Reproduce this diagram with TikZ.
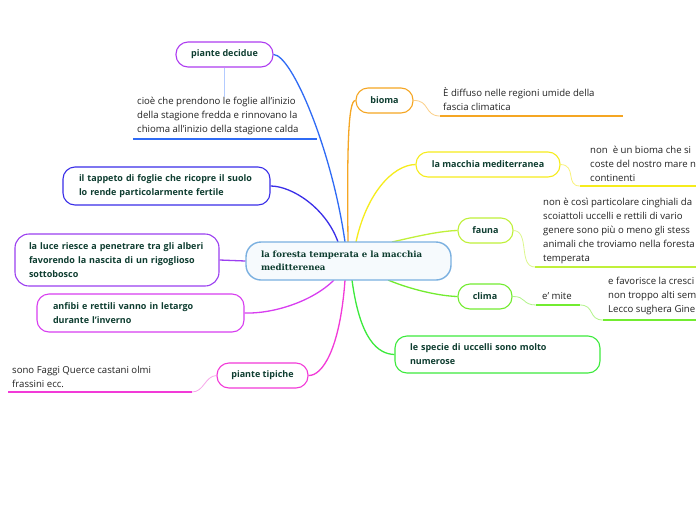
\documentclass[tikz,border=0pt]{standalone}
\usepackage{fontspec}
\setmainfont{Open Sans}
\newfontfamily\centfont{DejaVu Serif}
\definecolor{lbl}{HTML}{0E3D30}
\definecolor{txt}{HTML}{222222}
\definecolor{cBlue}{HTML}{2F6BF5}
\definecolor{cBlueL}{HTML}{B3CBFF}
\definecolor{cViolet}{HTML}{AE3CF0}
\definecolor{cIndigo}{HTML}{3A2EE8}
\definecolor{cPurple}{HTML}{9B3FF0}
\definecolor{cMag}{HTML}{D83EF0}
\definecolor{cPink}{HTML}{F23AD8}
\definecolor{cPinkL}{HTML}{F7A6EA}
\definecolor{cOrange}{HTML}{F5A623}
\definecolor{cOrangeL}{HTML}{FBD08A}
\definecolor{cYellow}{HTML}{F6EC1C}
\definecolor{cYellowL}{HTML}{F9F27A}
\definecolor{cLime}{HTML}{C0F03A}
\definecolor{cLimeL}{HTML}{DDF78E}
\definecolor{cGreen}{HTML}{72EC30}
\definecolor{cGreenL}{HTML}{B2F48A}
\definecolor{cGreen2}{HTML}{3CEA3C}
\definecolor{cCent}{HTML}{7AB0E0}
\definecolor{cCentF}{HTML}{F6FAFD}
\tikzset{
  box/.style={draw, line width=1.1pt, rounded corners=12pt, fill=white, text=lbl,
    font=\fontsize{9}{14}\selectfont\bfseries, inner ysep=0pt},
  wbox/.style={box, align=left, inner xsep=0pt},
  plain/.style={text=txt, font=\fontsize{9.6}{14}\selectfont, align=left, inner sep=0pt, anchor=west},
  branch/.style={line width=1.3pt},
  sub/.style={line width=0.8pt},
  uline/.style={line width=1.8pt}
}
\begin{document}
\begin{tikzpicture}[x=1pt,y=-1pt]
\clip (0,0) rectangle (696,520);
\fill[white] (0,0) rectangle (696,520);

% ---------- attachment points on the centre ----------
\coordinate (c1) at (345,242);
\coordinate (c2) at (338,242);
\coordinate (c3) at (348,242);
\coordinate (c4) at (356,242);
\coordinate (c5) at (392,242);
\coordinate (c6) at (334,280);
\coordinate (c7) at (345,280);
\coordinate (c8) at (352,280);
\coordinate (c9) at (388,280);

% ---------- boxes ----------
\node[box, draw=cViolet, minimum width=97pt, minimum height=25pt] (pd) at (224.5,54.5) {piante decidue};
\node[wbox, draw=cIndigo, minimum height=38pt, text width=175pt, inner xsep=16pt] (tap) at (166.5,186) {il tappeto di foglie che ricopre il suolo\\lo rende particolarmente fertile};
\node[wbox, draw=cPurple, minimum height=52pt, text width=176pt, inner xsep=14pt, rounded corners=14pt] (luce) at (117,260) {la luce riesce a penetrare tra gli alberi\\favorendo la nascita di un rigoglioso\\sottobosco};
\node[wbox, draw=cMag, minimum height=38pt, text width=175pt, inner xsep=16pt] (anf) at (140.5,313) {anfibi e rettili vanno in letargo\\durante l'inverno};
\node[box, draw=cPink, minimum width=91pt, minimum height=25pt] (pt) at (262.5,375.5) {piante tipiche};
\node[box, draw=cOrange, minimum width=57pt, minimum height=25pt] (bio) at (384.5,100.5) {bioma};
\node[box, draw=cYellow, minimum width=144pt, minimum height=25pt] (mac) at (488,164.5) {la macchia mediterranea};
\node[box, draw=cLime, minimum width=55pt, minimum height=25pt] (fau) at (485.5,230.5) {fauna};
\node[box, draw=cGreen, minimum width=54pt, minimum height=25pt] (cli) at (485,296.5) {clima};
\node[wbox, draw=cGreen2, minimum height=37pt, text width=175pt, inner xsep=15pt] (spe) at (497.5,354.5) {le specie di uccelli sono molto\\numerose};

% ---------- branch curves ----------
\draw[branch, cBlue] (c1) .. controls (332,150) and (292,55) .. (pd.east);
\draw[branch, cIndigo] (c2) .. controls (326,208) and (292,186) .. (tap.east);
\draw[branch, cOrange] (c3) .. controls (347,150) and (348,100) .. (bio.west);
\draw[branch, cYellow] (c4) .. controls (366,195) and (392,165) .. (mac.west);
\draw[branch, cLime] (c5) .. controls (418,236) and (440,231) .. (fau.west);
\draw[branch, cGreen] (c9) .. controls (412,290) and (440,296) .. (cli.west);
\draw[branch, cGreen2] (c8) .. controls (360,340) and (378,354) .. (spe.west);
\draw[branch, cPink] (c7) .. controls (340,350) and (322,376) .. (pt.east);
\draw[branch, cMag] (c6) .. controls (312,302) and (272,314) .. (anf.east);

% ---------- centre ----------
\node[draw=cCent, fill=cCentF, line width=1.4pt, rounded corners=15pt, minimum height=38pt,
  text width=175pt, inner xsep=15pt, inner ysep=0pt, align=left, text=lbl,
  font=\centfont\fontsize{8.6}{12.5}\selectfont\bfseries] (cen) at (348.5,261)
  {la foresta temperata e la macchia\\meditterenea};
\draw[branch, cPurple] (cen.west) -- (luce.east);

% ---------- texts ----------
\node[plain] (pdtext) at (137,116) {cioè che prendono le foglie all'inizio\\della stagione fredda e rinnovano la\\chioma all'inizio della stagione calda};
\coordinate (pdul1) at (133,139); \coordinate (pdul2) at (317,139);
\draw[uline, cBlue] (pdul1) -- (pdul2);
\draw[sub, cBlueL, line width=1.2pt] (pd.south) -- (pdtext.north -| pd.south);

\node[plain] (btext) at (443,99.5) {È diffuso nelle regioni umide della\\fascia climatica};
\coordinate (bul1) at (440,116); \coordinate (bul2) at (623,116);
\draw[uline, cOrange] (bul1) -- (bul2);
\draw[sub, cOrangeL] (bio.east) .. controls (430,100) and (424,116) .. (bul1);

\node[plain] (mtext) at (590,164) {non\ \ è un bioma che si\\coste del nostro mare n\\continenti};
\coordinate (mul1) at (580,186); \coordinate (mul2) at (696,186);
\draw[uline, cYellow] (mul1) -- (mul2);
\draw[sub, cYellowL] (mac.east) .. controls (577,165) and (565,186) .. (mul1);

\node[plain] (ftext) at (543,230.5) {non è così particolare cinghiali da\\scoiattoli uccelli e rettili di vario\\genere sono più o meno gli stess\\animali che troviamo nella foresta\\temperata};
\coordinate (ful1) at (535,267); \coordinate (ful2) at (696,267);
\draw[uline, cLime] (ful1) -- (ful2);
\draw[sub, cLimeL] (fau.east) .. controls (530,231) and (518,267) .. (ful1);

\node[plain] (mite) at (542,296) {e' mite};
\coordinate (eul1) at (536,305); \coordinate (eul2) at (580,305);
\draw[uline, cGreen] (eul1) -- (eul2);
\draw[sub, cGreenL] (cli.east) .. controls (526,296) and (522,305) .. (eul1);
\node[plain] (ctext) at (608,296) {e favorisce la cresci\\non troppo alti sem\\Lecco sughera Gine};
\coordinate (cul1) at (603,320); \coordinate (cul2) at (696,320);
\draw[uline, cGreen] (cul1) -- (cul2);
\draw[sub, cGreenL] (eul2) .. controls (595,305) and (588,320) .. (cul1);

\node[plain] (pttext) at (12,376.5) {sono Faggi Querce castani olmi\\frassini ecc.};
\coordinate (tul1) at (8,392); \coordinate (tul2) at (192,392);
\draw[uline, cPink] (tul1) -- (tul2);
\draw[sub, cPinkL] (pt.west) .. controls (205,376) and (204,392) .. (tul2);
\end{tikzpicture}
\end{document}
